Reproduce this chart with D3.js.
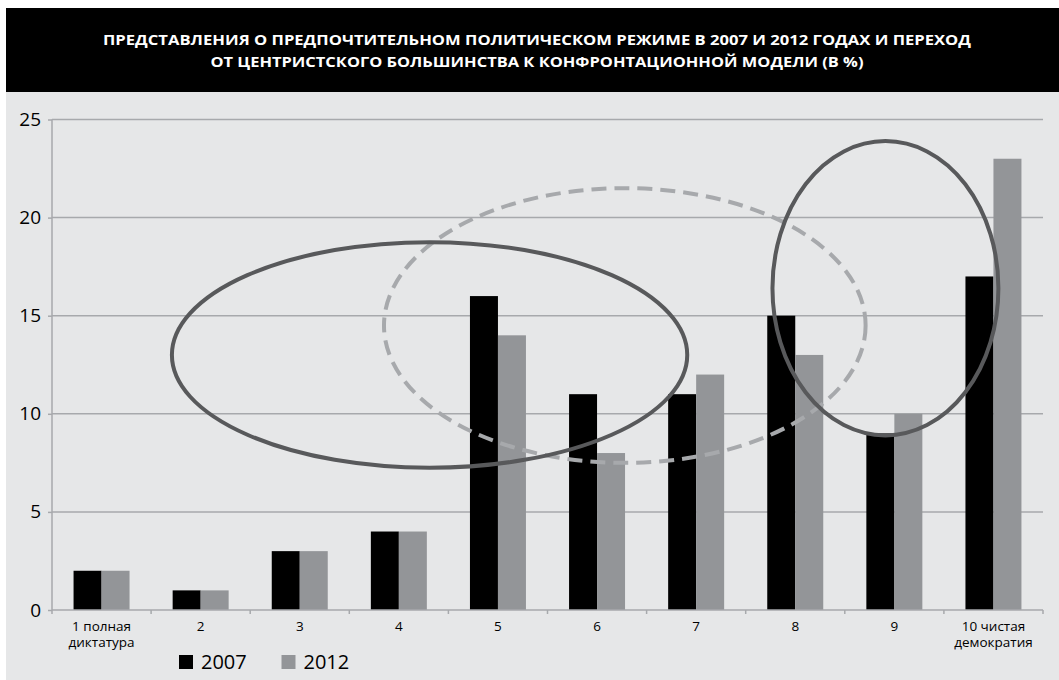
<!DOCTYPE html>
<html>
<head>
<meta charset="utf-8">
<script src="https://cdn.jsdelivr.net/npm/d3@7"></script>
<style>
  body { margin: 0; background: #fff; }
  svg { display: block; font-family: "Open Sans", "DejaVu Sans", sans-serif; }
</style>
</head>
<body>
<div class="chart"></div>
<script>
// data
var categories = ['1', '2', '3', '4', '5', '6', '7', '8', '9', '10'];
var catLabels = [['1  полная', 'диктатура'], ['2'], ['3'], ['4'], ['5'], ['6'], ['7'], ['8'], ['9'], ['10 чистая', 'демократия']];
var series = ['2007', '2012'];
var values2007 = [2, 1, 3, 4, 16, 11, 11, 15, 9, 17];
var values2012 = [2, 1, 3, 4, 14, 8, 12, 13, 10, 23];
var yTicks = [0, 5, 10, 15, 20, 25];
var titleLines = [
  'ПРЕДСТАВЛЕНИЯ О ПРЕДПОЧТИТЕЛЬНОМ ПОЛИТИЧЕСКОМ РЕЖИМЕ В 2007 И 2012 ГОДАХ И ПЕРЕХОД',
  'ОТ ЦЕНТРИСТСКОГО БОЛЬШИНСТВА К КОНФРОНТАЦИОННОЙ МОДЕЛИ (В %)'
];
// annotation ellipses, in category-position / value units
var ellipseCx = [5.78, 3.81, 8.41];
var ellipseCy = [14.5, 13, 16.4];
var ellipseRx = [2.43, 2.6, 1.14];
var ellipseRy = [7.0, 5.75, 7.5];
var ellipseDashed = [true, false, false];

var w = 1059, h = 680;
var colors = {'2007': '#000000', '2012': '#939598'};
var gridColor = '#a7a9ac';

var svg = d3.select('.chart').append('svg')
  .attr('width', w)
  .attr('height', h);

/*------------------------- BACKGROUND + TITLE -------------------------*/
svg.append('rect')
  .attr('x', 6).attr('y', 92)
  .attr('width', w - 6).attr('height', h - 92)
  .attr('fill', '#e6e7e8');

svg.append('rect')
  .attr('x', 6).attr('y', 8)
  .attr('width', w - 6).attr('height', 84)
  .attr('fill', '#000');

var titleWidths = [868, 653];
svg.selectAll('.title').data(titleLines).enter()
  .append('text')
  .attr('class', 'title')
  .attr('x', 537)
  .attr('y', function(d, i) { return 45 + i * 22; })
  .attr('text-anchor', 'middle')
  .attr('fill', '#fff')
  .attr('font-weight', 'bold')
  .attr('font-size', 14)
  .attr('textLength', function(d, i) { return titleWidths[i]; })
  .attr('lengthAdjust', 'spacingAndGlyphs')
  .text(function(d) { return d; });

/*------------------------------ SCALES ------------------------------*/
var x0 = 52, x1 = 1043, yBottom = 610, yTop = 119.5;

var x = d3.scaleBand()
  .domain(categories)
  .range([x0, x1])
  .paddingInner(0.435)
  .paddingOuter(0.2175);

var xSub = d3.scaleBand()
  .domain(series)
  .range([0, x.bandwidth()]);

var xPos = d3.scaleLinear().domain([0, categories.length]).range([x0, x1]);

var y = d3.scaleLinear().domain([0, 25]).range([yBottom, yTop]);

/*------------------------------ GRID ------------------------------*/
svg.append('g').selectAll('line').data(yTicks.filter(function(d) { return d > 0; })).enter()
  .append('line')
  .attr('x1', x0).attr('x2', x1)
  .attr('y1', function(d) { return y(d); })
  .attr('y2', function(d) { return y(d); })
  .attr('stroke', gridColor)
  .attr('stroke-width', 1.5);

/*------------------------------ BARS ------------------------------*/
var rows = categories.map(function(c, i) {
  return {cat: c, vals: [{s: '2007', v: values2007[i]}, {s: '2012', v: values2012[i]}]};
});

var groups = svg.append('g').selectAll('g').data(rows).enter()
  .append('g')
  .attr('transform', function(d) { return 'translate(' + x(d.cat) + ',0)'; });

groups.selectAll('rect').data(function(d) { return d.vals; }).enter()
  .append('rect')
  .attr('x', function(d) { return xSub(d.s); })
  .attr('width', xSub.bandwidth())
  .attr('y', function(d) { return y(d.v); })
  .attr('height', function(d) { return y(0) - y(d.v); })
  .attr('fill', function(d) { return colors[d.s]; });

/*------------------------------ AXES ------------------------------*/
var yAxis = svg.append('g')
  .attr('transform', 'translate(' + x0 + ',0)')
  .call(d3.axisLeft(y).tickValues(yTicks).tickSize(4).tickPadding(7));
yAxis.select('.domain').attr('stroke', gridColor).attr('stroke-width', 1.5)
  .attr('d', 'M0,' + yTop + 'V' + yBottom);
yAxis.selectAll('.tick line').attr('stroke', gridColor).attr('stroke-width', 1.5);
yAxis.selectAll('.tick text')
  .attr('font-size', 19)
  .attr('font-family', '"Open Sans", sans-serif')
  .attr('fill', '#000');

var xAxis = svg.append('g')
  .attr('transform', 'translate(0,' + yBottom + ')');
xAxis.append('line')
  .attr('x1', x0).attr('x2', x1)
  .attr('stroke', gridColor).attr('stroke-width', 1.5);
xAxis.selectAll('.xtick').data(d3.range(categories.length + 1)).enter()
  .append('line')
  .attr('x1', function(d) { return xPos(d); })
  .attr('x2', function(d) { return xPos(d); })
  .attr('y1', 0).attr('y2', 4)
  .attr('stroke', gridColor).attr('stroke-width', 1.5);

var xLabels = xAxis.selectAll('.xlabel').data(categories).enter()
  .append('text')
  .attr('text-anchor', 'middle')
  .attr('font-size', 13.5)
  .attr('fill', '#000');
xLabels.selectAll('tspan').data(function(d, i) { return catLabels[i].map(function(t) { return {t: t, c: d}; }); }).enter()
  .append('tspan')
  .attr('x', function(d) { return x(d.c) + x.bandwidth() / 2; })
  .attr('y', function(d, i) { return 21 + i * 16; })
  .text(function(d) { return d.t; });

/*---------------------------- ELLIPSES ----------------------------*/
svg.append('g').selectAll('ellipse').data(ellipseCx).enter()
  .append('ellipse')
  .attr('cx', function(d) { return xPos(d); })
  .attr('cy', function(d, i) { return y(ellipseCy[i]); })
  .attr('rx', function(d, i) { return xPos(ellipseRx[i]) - xPos(0); })
  .attr('ry', function(d, i) { return y(0) - y(ellipseRy[i]); })
  .attr('fill', 'none')
  .attr('stroke', function(d, i) { return ellipseDashed[i] ? '#a7a9ac' : '#58595b'; })
  .attr('stroke-width', 4)
  .attr('stroke-dasharray', function(d, i) { return ellipseDashed[i] ? '15,8' : null; });

/*----------------------------- LEGEND -----------------------------*/
var legend = svg.append('g').attr('transform', 'translate(179,655)');
var legItems = legend.selectAll('g').data(series).enter()
  .append('g')
  .attr('transform', function(d, i) { return 'translate(' + (i * 102.5) + ',0)'; });
legItems.append('rect')
  .attr('width', 14).attr('height', 14)
  .attr('fill', function(d) { return colors[d]; });
legItems.append('text')
  .attr('x', 22).attr('y', 13.5)
  .attr('font-size', 20)
  .attr('fill', '#000')
  .text(function(d) { return d; });
</script>
</body>
</html>
